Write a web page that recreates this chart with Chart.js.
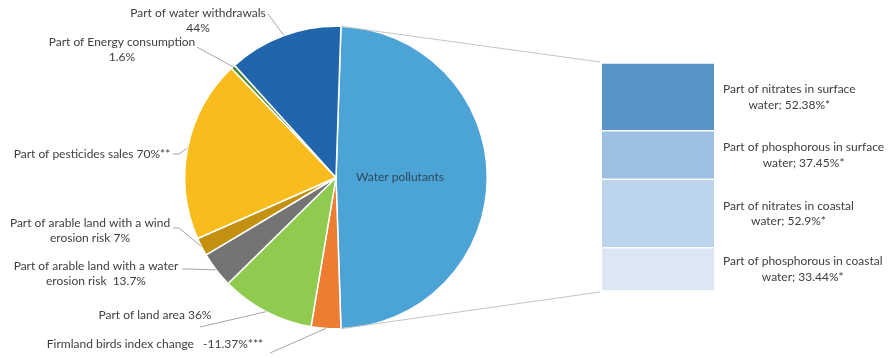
<!DOCTYPE html>
<html>
<head>
<meta charset="utf-8">
<script src="https://cdn.jsdelivr.net/npm/chart.js@4"></script>
<style>
  html, body { margin: 0; padding: 0; background: #fff; }
  #stage { position: relative; width: 893px; height: 358px; overflow: hidden; }
  #pieCanvas { position: absolute; left: 0; top: 0; }
  #barCanvas { position: absolute; left: 602px; top: 63px; }
</style>
</head>
<body>
<div id="stage">
  <canvas id="pieCanvas" width="893" height="358"></canvas>
  <canvas id="barCanvas" width="291" height="228"></canvas>
</div>
<script>
// Aggregated slice that is broken out into the bar on the right
const otherLabel = 'Water pollutants';

// Pie slices, clockwise from the bottom of the broken-out slice
const pieNames = [
  'Firmland birds index change',
  'Part of land area',
  'Part of arable land with a water\nerosion risk',
  'Part of arable land with a wind\nerosion risk',
  'Part of pesticides sales',
  'Part of Energy consumption',
  'Part of water withdrawals'
];
const pieValues = [-11.37, 36, 13.7, 7, 70, 1.6, 44];
const pieValueSeparators = ['   ', ' ', '  ', ' ', ' ', '\n', '\n'];
const pieFootnotes = ['***', '', '', '', '**', '', ''];
const pieColors = ['#ED7D31', '#8FCB4F', '#747474', '#C4900F', '#F8BC1D', '#4F8A35', '#2166AD'];

// Breakdown of the water pollutants slice (top to bottom)
const barNames = [
  'Part of nitrates in surface\nwater',
  'Part of phosphorous in surface\nwater',
  'Part of nitrates in coastal\nwater',
  'Part of phosphorous in coastal\nwater'
];
const barValues = [52.38, 37.45, 52.9, 33.44];
const barFootnote = '*';
const barColors = ['#5A93CA', '#9CC0E3', '#BCD5EC', '#DCE7F3'];

const otherColor = '#4CA3D5';
const textColor = '#404040';
const FONT = '12px Lato';

// Label placement for the pie slices: text center x, first baseline y, leader start
const pieLabelPos = [
  { x: 155, y: 344, lx: 270, ly: 353 },
  { x: 155, y: 315, lx: 200, ly: 327 },
  { x: 96,  y: 266, lx: 182, ly: 269, hook: true },
  { x: 90,  y: 223, lx: 173, ly: 228, hook: true },
  { x: 92,  y: 154, lx: 173, ly: 154, hook: true },
  { x: 122, y: 42,  lx: 197, ly: 47 },
  { x: 198, y: 13,  lx: 268, ly: 14 }
];
const LINE_H = 15.5;

const barTotal = barValues.reduce((a, b) => a + b, 0);
const pieData = [barTotal, ...pieValues.map(v => Math.abs(v))];
const pieTotal = pieData.reduce((a, b) => a + b, 0);
const otherSpanDeg = barTotal / pieTotal * 360;

function fmt(v) { return String(v) + '%'; }

function drawLines(ctx, lines, cx, y0) {
  lines.forEach((t, i) => ctx.fillText(t, cx, y0 + i * LINE_H));
}

// ---- stacked bar with the breakdown ----
const barLabelsPlugin = {
  id: 'barLabels',
  afterDatasetsDraw(chart) {
    const ctx = chart.ctx;
    ctx.save();
    ctx.font = FONT;
    ctx.fillStyle = textColor;
    ctx.textAlign = 'center';
    ctx.textBaseline = 'middle';
    const left = chart.chartArea.right + 9;
    barNames.forEach((name, i) => {
      const el = chart.getDatasetMeta(i).data[0];
      const midY = (el.y + el.base) / 2;
      const text = name + '; ' + fmt(barValues[i]) + barFootnote;
      const lines = text.split('\n');
      const w = Math.max(...lines.map(l => ctx.measureText(l).width));
      const y0 = midY - (lines.length - 1) * LINE_H / 2;
      drawLines(ctx, lines, left + w / 2, y0);
    });
    ctx.restore();
  }
};

const barChart = new Chart(document.getElementById('barCanvas'), {
  type: 'bar',
  data: {
    labels: [otherLabel],
    datasets: barNames.map((n, i) => ({
      label: n,
      data: [barValues[i]],
      backgroundColor: barColors[i],
      borderColor: '#ffffff',
      borderWidth: { top: 1, bottom: 1, left: 0, right: 0 },
      borderSkipped: false,
      barPercentage: 1,
      categoryPercentage: 1
    }))
  },
  options: {
    responsive: false,
    animation: false,
    layout: { padding: { left: 0, right: 179, top: 0, bottom: 0 } },
    plugins: { legend: { display: false }, tooltip: { enabled: false } },
    scales: {
      x: { display: false, stacked: true },
      y: { display: false, stacked: true, reverse: true, min: 0, max: barTotal }
    }
  },
  plugins: [barLabelsPlugin]
});

// ---- pie with leader-line labels and connectors to the bar ----
const pieLabelsPlugin = {
  id: 'pieLabels',
  afterDatasetsDraw(chart) {
    const ctx = chart.ctx;
    const arcs = chart.getDatasetMeta(0).data;
    ctx.save();

    // connectors from the broken-out slice to the bar
    const first = arcs[0];
    const r = first.outerRadius;
    const barEl = barChart.getDatasetMeta(0).data[0];
    const barLeft = 602 + barEl.x - barEl.width / 2 - 2;
    const barTop = 63 + barChart.scales.y.getPixelForValue(0) - 1;
    const barBottom = 63 + barChart.scales.y.getPixelForValue(barTotal) + 1;
    ctx.strokeStyle = '#C4C4C4';
    ctx.lineWidth = 1;
    ctx.beginPath();
    ctx.moveTo(first.x + r * Math.cos(first.startAngle), first.y + r * Math.sin(first.startAngle));
    ctx.lineTo(barLeft, barTop);
    ctx.moveTo(first.x + r * Math.cos(first.endAngle), first.y + r * Math.sin(first.endAngle));
    ctx.lineTo(barLeft, barBottom);
    ctx.stroke();

    // label inside the broken-out slice
    ctx.font = FONT;
    ctx.fillStyle = '#2B4A5B';
    ctx.textAlign = 'center';
    ctx.textBaseline = 'middle';
    ctx.fillText(otherLabel, first.x + 64, first.y);

    // outside labels with leader lines
    ctx.fillStyle = textColor;
    ctx.strokeStyle = '#A6A6A6';
    pieNames.forEach((name, i) => {
      const el = arcs[i + 1];
      const mid = (el.startAngle + el.endAngle) / 2;
      const ex = el.x + el.outerRadius * Math.cos(mid);
      const ey = el.y + el.outerRadius * Math.sin(mid);
      const p = pieLabelPos[i];
      ctx.beginPath();
      ctx.moveTo(p.lx, p.ly);
      if (p.hook) ctx.lineTo(p.lx + 6, p.ly);
      ctx.lineTo(ex, ey);
      ctx.stroke();
      const text = name + pieValueSeparators[i] + fmt(pieValues[i]) + pieFootnotes[i];
      drawLines(ctx, text.split('\n'), p.x, p.y);
    });
    ctx.restore();
  }
};

new Chart(document.getElementById('pieCanvas'), {
  type: 'pie',
  data: {
    labels: [otherLabel, ...pieNames],
    datasets: [{
      data: pieData,
      backgroundColor: [otherColor, ...pieColors],
      borderColor: '#ffffff',
      borderWidth: 1.5
    }]
  },
  options: {
    responsive: false,
    animation: false,
    rotation: 90 - otherSpanDeg / 2,
    layout: { padding: { left: 184, right: 405, top: 25, bottom: 28 } },
    plugins: { legend: { display: false }, tooltip: { enabled: false } }
  },
  plugins: [pieLabelsPlugin]
});
</script>
</body>
</html>
